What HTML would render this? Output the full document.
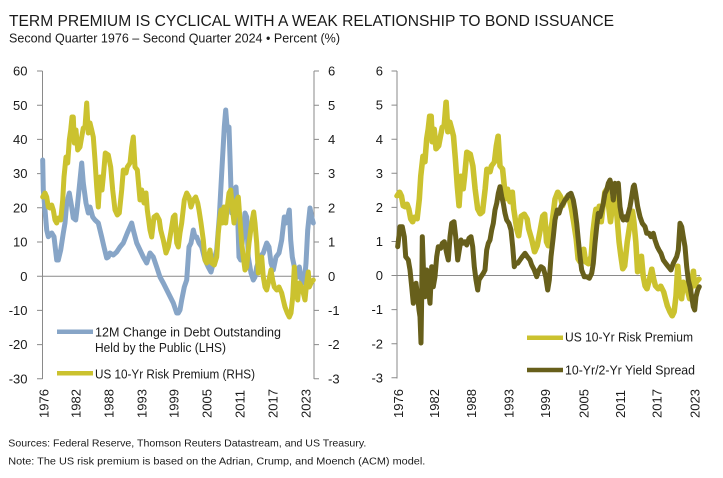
<!DOCTYPE html>
<html><head><meta charset="utf-8"><style>
html,body{margin:0;padding:0;background:#fff;}
svg{display:block;}
text{font-family:"Liberation Sans",Arial,sans-serif;fill:#1a1a1a;}
</style></head><body>
<svg width="723" height="478" viewBox="0 0 723 478" xmlns="http://www.w3.org/2000/svg">
<rect width="723" height="478" fill="#fff"/>
<text x="9" y="26" font-size="15.5" textLength="605" lengthAdjust="spacingAndGlyphs">TERM PREMIUM IS CYCLICAL WITH A WEAK RELATIONSHIP TO BOND ISSUANCE</text>
<text x="9" y="42.3" font-size="12.5" textLength="331" lengthAdjust="spacingAndGlyphs">Second Quarter 1976 – Second Quarter 2024 • Percent (%)</text>

<!-- LEFT CHART -->
<g stroke="#8a8a8a" stroke-width="1" fill="none">
<line x1="42.5" y1="71" x2="42.5" y2="379"/>
<line x1="314" y1="71" x2="314" y2="379"/>
<line x1="42.5" y1="276.2" x2="314" y2="276.2"/>
<path d="M37,71H42.5M37,105.2H42.5M37,139.4H42.5M37,173.6H42.5M37,207.8H42.5M37,242H42.5M37,276.2H42.5M37,310.4H42.5M37,344.6H42.5M37,378.8H42.5"/>
<path d="M314,71H319M314,105.2H319M314,139.4H319M314,173.6H319M314,207.8H319M314,242H319M314,276.2H319M314,310.4H319M314,344.6H319M314,378.8H319"/>
</g>
<g font-size="13" text-anchor="end">
<text x="27.5" y="75.6">60</text><text x="27.5" y="109.8">50</text><text x="27.5" y="144">40</text><text x="27.5" y="178.2">30</text><text x="27.5" y="212.4">20</text><text x="27.5" y="246.6">10</text><text x="27.5" y="280.8">0</text><text x="27.5" y="315">-10</text><text x="27.5" y="349.2">-20</text><text x="27.5" y="383.4">-30</text>
</g>
<g font-size="13">
<text x="328" y="75.6">6</text><text x="328" y="109.8">5</text><text x="328" y="144">4</text><text x="328" y="178.2">3</text><text x="328" y="212.4">2</text><text x="328" y="246.6">1</text><text x="328" y="280.8">0</text><text x="328" y="315">-1</text><text x="328" y="349.2">-2</text><text x="328" y="383.4">-3</text>
</g>
<g font-size="13">
<text transform="translate(48.7,418) rotate(-90)">1976</text>
<text transform="translate(80.7,418) rotate(-90)">1982</text>
<text transform="translate(113.7,418) rotate(-90)">1988</text>
<text transform="translate(146.7,418) rotate(-90)">1993</text>
<text transform="translate(178.7,418) rotate(-90)">1999</text>
<text transform="translate(211.7,418) rotate(-90)">2005</text>
<text transform="translate(244.7,418) rotate(-90)">2011</text>
<text transform="translate(277.7,418) rotate(-90)">2017</text>
<text transform="translate(310.7,418) rotate(-90)">2023</text>
</g>

<polyline fill="none" stroke="#87a5c7" stroke-width="5" stroke-linejoin="round" stroke-linecap="round" points="42.7,160 43.3,190 45,210 46.7,230 48.3,236.7 51.7,233 54,236.7 56.7,260 58.3,260 60.7,250 63.3,233 65,223 66.7,203 69.3,193 71.7,207 73.3,218 75.7,220 77.3,207 79.3,187 81.7,163 83.3,183 86,203 88.3,213 90,207 92.7,217 95,220 98.3,223 101.7,237 104,247 106.7,258 108.3,257 110,253 113.3,255 116.7,252 120,247 123.3,243 127.3,233 131.7,223 133.3,230 136.7,243 140,250 143.3,257 146.7,263 150,253 153.3,257 156.7,267 160,277 163.3,283 168.3,293 173.3,303 176.7,313 178.3,313 180,310 181.7,300 184.3,287 186.7,280 189,247 191,243 193.3,230 195,237 196.7,237 199,243 201.7,247 205,260 208.3,267 211,272 213.3,263 216.7,250 219.3,217 221.7,173 224.3,127 225.7,110 227.3,130 229,127 230,157 231.7,213 234.3,190 236,187 237.7,217 239,257 240.7,260 242.7,237 245,213 246.7,217 248.3,257 251,273 253.3,280 255,277 256.7,267 260,257 263.3,253 266.7,243 269,247 271,263 273.3,270 276,257 279,253 281.7,240 284.3,217 286,223 287.7,217 289.3,210 290.7,240 292.3,257 295,270 297.7,277 299.3,267 301.7,280 304.3,283 306,263 307.7,230 310,208 311.7,217 313.3,223"/>

<polyline id="yl" fill="none" stroke="#cbc22f" stroke-width="5" stroke-linejoin="round" stroke-linecap="round" points="42.7,197 45,193 46.7,197 48.3,207 50,208 51.7,205 53.3,210 55,220 56.7,223 58.3,218 60.7,220 62.7,200 64,177 66,157 67.7,163 69.3,140 70.7,130 72,117 73.3,117 74.3,143 76,130 77.7,150 80,147 81.7,137 83.3,128 85,127 86.7,103 88.3,133 90,123 91.7,130 93.3,137 95,160 96.7,187 98.3,207 100,177 102,190 103.3,177 105.3,153 108.3,155 110.7,167 112.7,190 115,210 117.3,215 119.3,213 121.7,190 123.3,170 126,173 127.3,167 130,163 131.7,147 133.3,137 135,167 137.3,170 140,200 141.7,190 144,203 146,193 147.3,210 150,230 151.7,237 154,217 156.7,215 159.3,220 160.7,230 163.3,240 166,253 168.3,247 170.7,233 173.3,217 175,215 176.7,243 178.3,247 180,233 181.7,223 184.3,200 186.7,193 189,197 191,207 193.3,200 195.7,197 197.7,203 199,210 201,223 203.3,240 205,260 206.7,263 208.3,257 210,250 211.7,263 214.3,265 216.7,257 218.3,233 220,217 221,210 222.3,223 224,207 225.7,223 227.3,207 229,193 230.7,190 232.3,207 234,223 235.7,207 236.7,200 238.3,197 240,220 241.7,243 243.3,257 245,270 246.7,267 249,243 251.7,223 253.7,212 255,223 256.7,243 258.3,273 260,263 261.7,257 263.3,277 265,287 266.7,290 269,280 271,270 272.7,280 274.3,287 276.7,290 279,287 281.7,293 283.3,300 285,307 287.3,313 289.3,317 291,313 292.7,297 294.3,267 295.7,287 297.7,300 299.3,283 301.7,287 303.3,293 305,300 306.7,283 308.3,272 309.3,287 311,283 313.3,280"/>

<line x1="57" y1="331.7" x2="93" y2="331.7" stroke="#87a5c7" stroke-width="4.5"/>
<text x="95" y="336.7" font-size="12.5" textLength="186" lengthAdjust="spacingAndGlyphs">12M Change in Debt Outstanding</text>
<text x="95" y="352" font-size="12.5" textLength="131" lengthAdjust="spacingAndGlyphs">Held by the Public (LHS)</text>
<line x1="57" y1="373.3" x2="93" y2="373.3" stroke="#cbc22f" stroke-width="4.5"/>
<text x="95" y="378.3" font-size="12.5" textLength="160" lengthAdjust="spacingAndGlyphs">US 10-Yr Risk Premium (RHS)</text>

<!-- RIGHT CHART -->
<g stroke="#8a8a8a" stroke-width="1" fill="none">
<line x1="397" y1="71" x2="397" y2="378.5"/>
<line x1="397" y1="275.5" x2="700" y2="275.5"/>
<path d="M391.5,71H397M391.5,105.1H397M391.5,139.2H397M391.5,173.3H397M391.5,207.4H397M391.5,241.5H397M391.5,275.5H397M391.5,309.6H397M391.5,343.7H397M391.5,377.8H397"/>
</g>
<g font-size="13" text-anchor="end">
<text x="383" y="75.6">6</text><text x="383" y="109.7">5</text><text x="383" y="143.8">4</text><text x="383" y="177.9">3</text><text x="383" y="212">2</text><text x="383" y="246.1">1</text><text x="383" y="280.1">0</text><text x="383" y="314.2">-1</text><text x="383" y="348.3">-2</text><text x="383" y="382.4">-3</text>
</g>
<g font-size="13">
<text transform="translate(403,418) rotate(-90)">1976</text>
<text transform="translate(439,418) rotate(-90)">1982</text>
<text transform="translate(476,418) rotate(-90)">1988</text>
<text transform="translate(513.5,418) rotate(-90)">1993</text>
<text transform="translate(550,418) rotate(-90)">1999</text>
<text transform="translate(588.5,418) rotate(-90)">2005</text>
<text transform="translate(625,418) rotate(-90)">2011</text>
<text transform="translate(661.7,418) rotate(-90)">2017</text>
<text transform="translate(699.4,418) rotate(-90)">2023</text>
</g>

<g transform="translate(397,-1) scale(1.116,1) translate(-42.7,0)">
<use href="#yl" vector-effect="non-scaling-stroke"/>
</g>

<polyline fill="none" stroke="#675f1b" stroke-width="5" stroke-linejoin="round" stroke-linecap="round" points="397.7,246.7 400,226.7 402.3,226.7 404.3,236.7 405.7,256.7 408.3,260 410,270 411.7,286.7 413.3,303.3 415,293.3 416,283.3 417.7,296.7 419,310 420,316.7 421,343 421.7,296.7 422.3,236.7 423.7,276.7 425,296.7 426.7,270 428.3,286.7 430,303.3 431.7,266.7 433.3,286.7 435,276.7 436.7,256.7 438.3,246.7 440.7,248.3 442.3,243.3 444.3,241.7 446.7,253.3 448.3,260 450,236.7 451.7,223.3 454,221.7 455.7,236.7 457.7,260 459.3,250 461,240 462.7,243.3 465,241.7 466.7,245 469,238.3 471,236.7 472.7,246.7 474.3,266.7 476,280 477.7,290 479,280 481,276.7 483.3,273.3 485,270 486.7,250 488.3,243.3 490,240 491.7,230 493.3,223.3 495,210 496.7,203.3 498.3,193.3 500,186.7 501.7,196.7 503.3,203.3 505,213.3 506.7,220 509,223.3 511,230 512.7,246.7 514.3,266.7 515.7,263.3 517.7,263.3 520,260 522.3,256.7 525,253.3 527.3,256.7 530,260 531.7,265 534.3,270 536.7,276.7 539,270 541,266.7 543.3,268.3 545.7,276.7 547.7,290 549.3,280 551,256.7 553.3,236.7 555,220 557.3,210 559,213.3 561,206.7 563.3,203.3 565,200 566.7,198.3 568.3,195 571,193.3 573.3,200 575,210 576.7,223.3 578.3,240 580,256.7 581.7,270 584.3,276.7 586.7,276.7 589.3,278.3 591.7,273.3 593.3,263.3 595,243.3 596.7,226.7 598.3,213.3 600,216.7 601.7,210 603.3,203.3 605,193.3 606.7,190 608.3,183.3 610,180 611.7,186.7 613.3,200 615,183.3 616.7,186.7 618.3,183.3 620,206.7 621.7,216.7 623.3,220 625,216.7 626.7,220 628.3,213.3 630,206.7 631.7,196.7 633.3,186.7 634.3,185 635.7,193.3 637.7,206.7 640,216.7 642.3,223.3 645,226.7 646.7,233.3 649,233.3 651,236.7 653.3,233.3 655,240 657.3,246.7 659,250 661,253.3 663.3,260 665.7,263.3 668.3,266.7 671,270 673.3,263.3 675,260 676.7,256.7 678.3,250 680,223.3 681.7,226.7 683.3,236.7 685,246.7 686.7,266.7 688.3,280 690,286.7 691.7,296.7 693.3,306.7 694.7,310 696,296.7 697.7,290 699.3,286.7"/>

<line x1="527" y1="337.7" x2="563" y2="337.7" stroke="#cbc22f" stroke-width="4.5"/>
<text x="565" y="341.7" font-size="12.5" textLength="128" lengthAdjust="spacingAndGlyphs">US 10-Yr Risk Premium</text>
<line x1="527" y1="370" x2="563" y2="370" stroke="#675f1b" stroke-width="4.5"/>
<text x="565" y="374.5" font-size="12.5" textLength="130" lengthAdjust="spacingAndGlyphs">10-Yr/2-Yr Yield Spread</text>

<text x="8.3" y="446.5" font-size="10.5" textLength="358" lengthAdjust="spacingAndGlyphs">Sources: Federal Reserve, Thomson Reuters Datastream, and US Treasury.</text>
<text x="8.3" y="464.5" font-size="10.5" textLength="417" lengthAdjust="spacingAndGlyphs">Note: The US risk premium is based on the Adrian, Crump, and Moench (ACM) model.</text>
</svg>
</body></html>
